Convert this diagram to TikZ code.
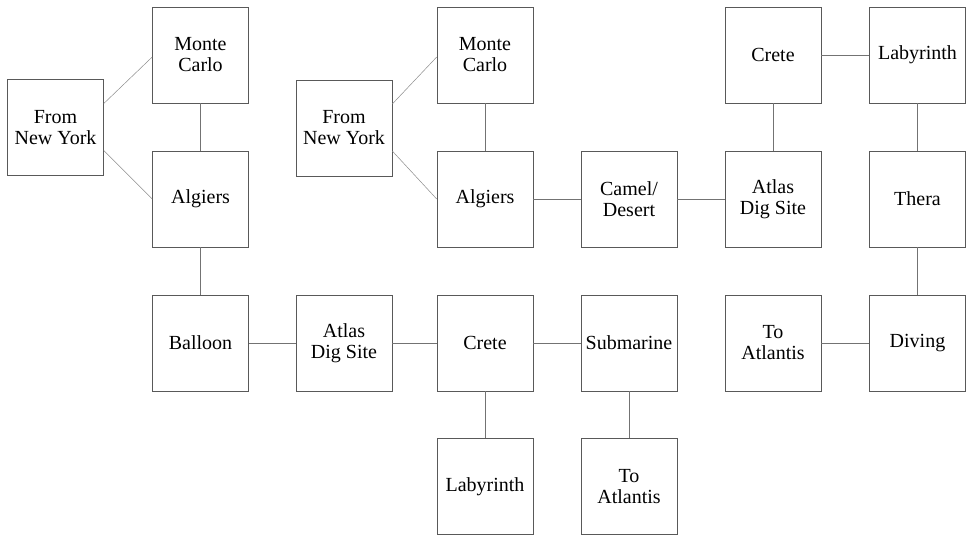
\documentclass[tikz,border=0pt]{standalone}
\usepackage{fontspec}
\setmainfont{Liberation Serif}
\begin{document}
\begin{tikzpicture}[x=1pt,y=-1pt,
  box/.style={draw=black!65, line width=0.6pt, minimum width=96pt, minimum height=96pt, inner sep=0pt, align=center, font=\fontsize{20}{21}\selectfont},
  link/.style={draw=black!55, line width=0.6pt},
  diag/.style={draw=black!45, line width=0.5pt}]
\useasboundingbox (0,0) rectangle (968,536);
% left diagram
\node[box] (fny1) at (55.5,127.5) {From\\New York};
\node[box] (mc1) at (200.5,55) {Monte\\Carlo};
\node[box] (alg1) at (200.5,199) {Algiers};
\node[box] (bal) at (200.5,343) {Balloon};
\node[box] (atl1) at (344,343) {Atlas\\Dig Site};
\node[box] (cre1) at (485,343) {Crete};
\node[box] (sub) at (629,343) {Submarine};
\node[box] (lab1) at (485,486.5) {Labyrinth};
\node[box] (toa1) at (629,486.5) {To\\Atlantis};
% right diagram
\node[box] (fny2) at (344,128) {From\\New York};
\node[box] (mc2) at (485,55) {Monte\\Carlo};
\node[box] (alg2) at (485,199) {Algiers};
\node[box] (cam) at (629,199) {Camel/\\Desert};
\node[box] (atl2) at (773,199) {Atlas\\Dig Site};
\node[box] (cre2) at (773,55) {Crete};
\node[box] (lab2) at (917.5,55) {Labyrinth};
\node[box] (the) at (917.5,199) {Thera};
\node[box] (div) at (917.5,343) {Diving};
\node[box] (toa2) at (773,343) {To\\Atlantis};
% connectors left
\draw[diag] ([yshift=24pt]fny1.east) -- ([yshift=-2pt]mc1.west);
\draw[diag] ([yshift=-23pt]fny1.east) -- (alg1.west);
\draw[link] (mc1) -- (alg1);
\draw[link] (alg1) -- (bal);
\draw[link] (bal) -- (atl1);
\draw[link] (atl1) -- (cre1);
\draw[link] (cre1) -- (sub);
\draw[link] (cre1) -- (lab1);
\draw[link] (sub) -- (toa1);
% connectors right
\draw[diag] ([yshift=24pt]fny2.east) -- ([yshift=-2pt]mc2.west);
\draw[diag] ([yshift=-23pt]fny2.east) -- (alg2.west);
\draw[link] (mc2) -- (alg2);
\draw[link] (alg2) -- (cam);
\draw[link] (cam) -- (atl2);
\draw[link] (atl2) -- (cre2);
\draw[link] (cre2) -- (lab2);
\draw[link] (lab2) -- (the);
\draw[link] (the) -- (div);
\draw[link] (div) -- (toa2);
\end{tikzpicture}
\end{document}
